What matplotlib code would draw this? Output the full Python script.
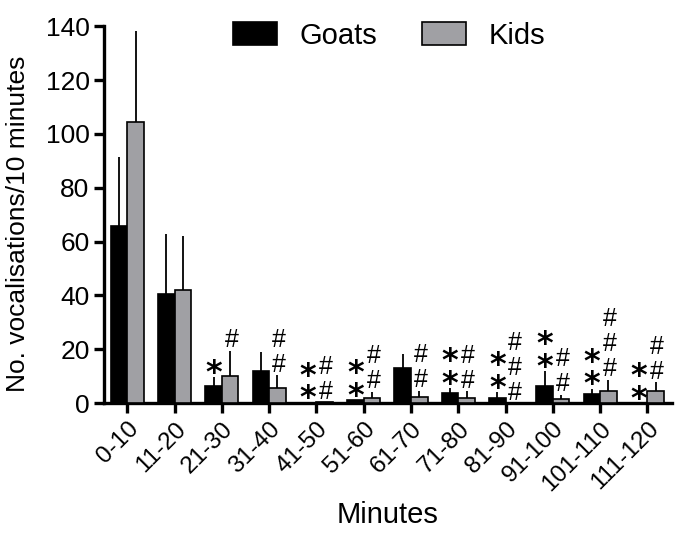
import matplotlib.pyplot as plt
import numpy as np

plt.rcParams['font.family'] = ['Liberation Sans', 'DejaVu Sans']

labels = ['0-10', '11-20', '21-30', '31-40', '41-50', '51-60', '61-70',
          '71-80', '81-90', '91-100', '101-110', '111-120']
goats = [65.7, 40.7, 6.4, 12.0, 0.2, 1.0, 13.0, 3.7, 2.1, 6.2, 3.4, 0.0]
goats_err = [25.7, 22.3, 3.2, 7.0, 0.0, 0.0, 5.2, 1.9, 1.9, 5.6, 2.0, 0.0]
kids = [104.3, 41.9, 10.0, 5.6, 0.3, 2.1, 2.2, 1.9, 0.0, 1.5, 4.6, 4.4]
kids_err = [33.9, 20.1, 9.5, 4.7, 0.0, 2.2, 2.5, 2.5, 0.0, 1.6, 4.1, 3.5]
# number of significance marks above each bar
goats_stars = [0, 0, 1, 0, 2, 2, 0, 2, 2, 2, 2, 2]
kids_hash = [0, 0, 1, 2, 2, 2, 2, 2, 3, 2, 3, 2]

x = np.arange(len(labels))
w = 0.35

fig, ax = plt.subplots(figsize=(6.85, 5.34), dpi=100)
fig.subplots_adjust(left=0.152, right=0.981, top=0.951, bottom=0.245)

ax.bar(x - w / 2, goats, w, color='black', edgecolor='black', linewidth=1.2,
       label='Goats', zorder=3)
ax.bar(x + w / 2, kids, w, color='#a0a0a4', edgecolor='black', linewidth=1.2,
       label='Kids', zorder=3)
ax.errorbar(x - w / 2, goats, yerr=[np.zeros(len(x)), goats_err], fmt='none',
            ecolor='black', elinewidth=1.3, capsize=0, zorder=2)
ax.errorbar(x + w / 2, kids, yerr=[np.zeros(len(x)), kids_err], fmt='none',
            ecolor='black', elinewidth=1.3, capsize=0, zorder=2)

# significance symbols stacked above the error bars
for i in range(len(x)):
    top = goats[i] + goats_err[i]
    for k in range(goats_stars[i]):
        ax.annotate('*', (x[i] - w / 2, top), xytext=(0, -3.3 + 16.3 * k),
                    textcoords='offset points', ha='center', va='baseline',
                    fontsize=23, fontweight='bold', family=['DejaVu Sans'])
    top = kids[i] + kids_err[i]
    for k in range(kids_hash[i]):
        ax.annotate('#', (x[i] + w / 2, top), xytext=(1, 2.4 + 18 * k),
                    textcoords='offset points', ha='center', va='baseline',
                    fontsize=18)

ax.set_xlim(-0.49, 11.52)
ax.set_ylim(0, 140)
ax.set_yticks(range(0, 141, 20))
ax.set_xticks(x)
ax.set_xticklabels(labels, rotation=45, ha='right', rotation_mode='anchor',
                   fontsize=17.5)
ax.tick_params(axis='y', labelsize=19)
ax.tick_params(width=2.4, length=7)
for s in ['top', 'right']:
    ax.spines[s].set_visible(False)
for s in ['left', 'bottom']:
    ax.spines[s].set_linewidth(2.4)

ax.set_xlabel('Minutes', fontsize=21, labelpad=4)
ax.set_ylabel('No. vocalisations/10 minutes', fontsize=19)
ax.yaxis.set_label_coords(-0.13, 0.475)

ax.legend(loc='center', bbox_to_anchor=(0.568, 0.933),
          bbox_transform=fig.transFigure, ncol=2, frameon=False, fontsize=21,
          handlelength=1.5, handleheight=0.83, columnspacing=1.55,
          handletextpad=0.76)

plt.savefig('out.png')
